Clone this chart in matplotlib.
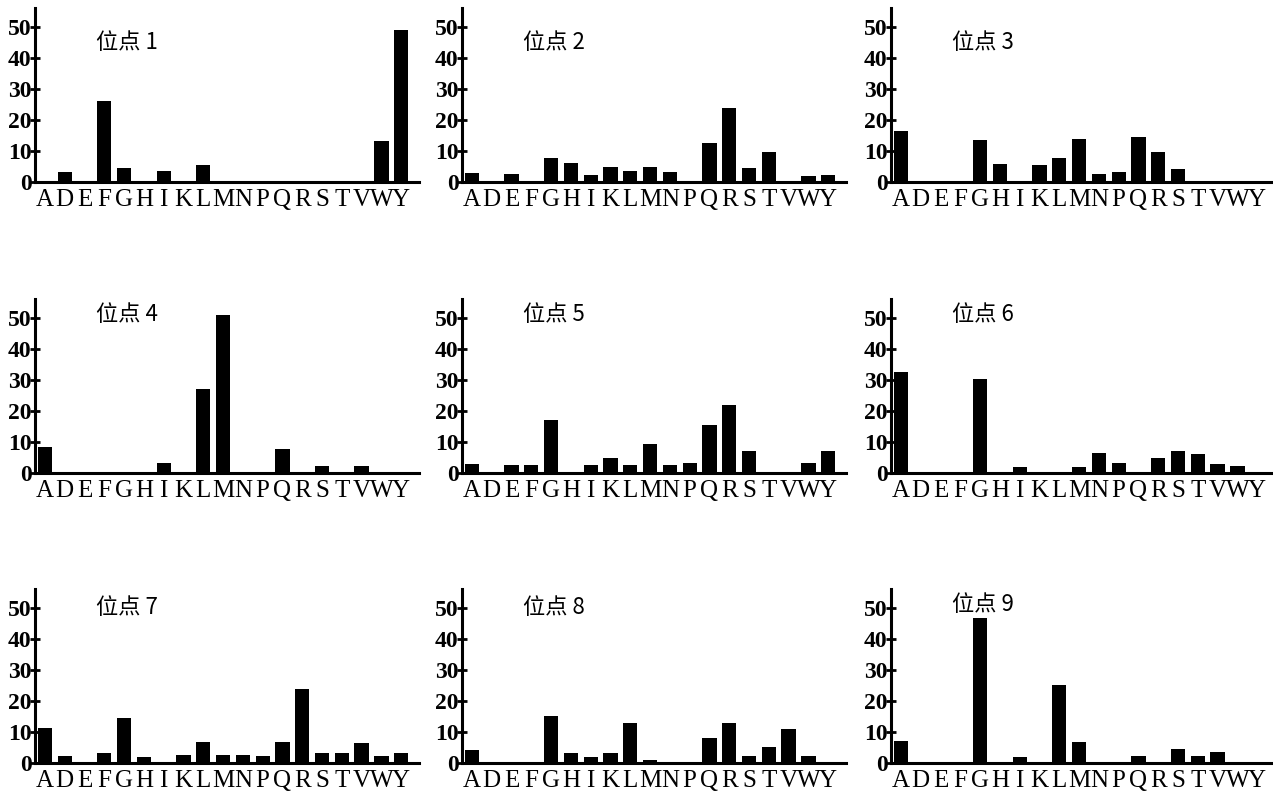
import matplotlib
matplotlib.use('Agg')
import matplotlib.pyplot as plt

plt.rcParams['font.family'] = ['Liberation Serif', 'DejaVu Serif']

letters = ['A', 'D', 'E', 'F', 'G', 'H', 'I', 'K', 'L', 'M',
           'N', 'P', 'Q', 'R', 'S', 'T', 'V', 'W', 'Y']

#         A    D    E    F    G    H    I    K    L    M    N    P    Q    R    S    T    V    W    Y
site1 = [0,   3.2, 0,   26,  4.6, 0,   3.7, 0,   5.5, 0.3, 0,   0.3, 0.3, 0,   0,   0,   0,   13.2, 49]
site2 = [3,   0,   2.5, 0,   7.8, 6.2, 2.3, 4.9, 3.5, 4.9, 3.1, 0,   12.4, 23.7, 4.4, 9.5, 0,  2,   2.1]
site3 = [16.3, 0,  0,   0,   13.4, 5.7, 0,  5.4, 7.6, 13.7, 2.5, 3.3, 14.4, 9.8, 4.2, 0,  0,   0,   0]
site4 = [8.3, 0,   0,   0,   0,   0,   3.2, 0,   27,  51,  0,   0,   7.6, 0,   2.2, 0,   2.3, 0,   0]
site5 = [3,   0,   2.5, 2.7, 17.1, 0,  2.7, 4.8, 2.7, 9.4, 2.7, 3.2, 15.6, 22,  7,   0,   0,   3.2, 7]
site6 = [32.4, 0,  0,   0,   30.3, 0,  1.9, 0,   0,   1.9, 6.3, 3.2, 0,   4.7, 7.2, 6.1, 2.9, 2.1, 0]
site7 = [11.4, 2.3, 0,  3.2, 14.4, 1.9, 0,  2.5, 6.8, 2.5, 2.5, 2.3, 6.8, 23.8, 3.2, 3.2, 6.5, 2.3, 3.2]
site8 = [4.1, 0,   0,   0,   15,  3.2, 1.9, 3.2, 13,  0.9, 0,   0,   8.1, 12.8, 2.1, 5.1, 11.1, 2.3, 0]
site9 = [7.2, 0,   0,   0,   46.7, 0,  1.9, 0,   25.2, 6.7, 0,  0,   2.1, 0,   4.5, 2.1, 3.7, 0,   0]

sites = [site1, site2, site3, site4, site5, site6, site7, site8, site9]
titles = ['位点 %d' % (i + 1) for i in range(9)]

W, H = 1273, 800
fig = plt.figure(figsize=(W / 100, H / 100), dpi=100)

# pixel layout: left edge of each column, zero line of each row
col_left = [35, 462, 891]
row_zero = [182, 473, 763]
ax_w = 384
ax_h = 174
title_y = [45, 45, 45, 51, 51, 51, 50, 50, 51]

x = list(range(len(letters)))
for i, vals in enumerate(sites):
    r, c = divmod(i, 3)
    left = col_left[c] / W
    bottom = 1 - row_zero[r] / H
    ax = fig.add_axes([left, bottom, ax_w / W, ax_h / H])
    ax.bar(x, vals, width=0.72, color='black')
    ax.set_xlim(-0.5, 18.9)
    ax.set_ylim(0, 56)
    ax.set_yticks([0, 10, 20, 30, 40, 50])
    ax.set_xticks(x)
    ax.set_xticklabels(letters)
    for s in ['top', 'right']:
        ax.spines[s].set_visible(False)
    for s in ['left', 'bottom']:
        ax.spines[s].set_linewidth(2.2)
    ax.tick_params(axis='y', direction='inout', length=7, width=2,
                   labelsize=17, pad=-1)
    ax.tick_params(axis='x', length=0, labelsize=18, pad=5)
    for lab in ax.get_yticklabels():
        lab.set_fontweight('bold')
    ax.text(2.6, title_y[i], titles[i], fontsize=16, va='center', ha='left',
            family=['Noto Sans CJK SC', 'DejaVu Sans'])

fig.savefig('out.png', dpi=100)
